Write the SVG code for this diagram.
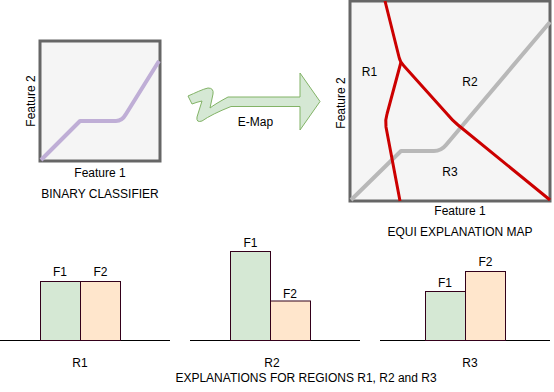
<svg xmlns="http://www.w3.org/2000/svg" width="554" height="392" viewBox="0 0 554 392">
<style>
text{font-family:"Liberation Sans",Arial,sans-serif;font-size:12px;fill:#000;text-anchor:middle}
.box{fill:#f5f5f5;stroke:#666666;stroke-width:3}
.red{fill:none;stroke:#cc0000;stroke-width:3;stroke-linejoin:round}
.f1{fill:#d5e8d4;stroke:#33001a;stroke-width:1}
.f2{fill:#ffe6cc;stroke:#33001a;stroke-width:1}
.axis{stroke:#000;stroke-width:1}
</style>
<g id="binary-classifier">
<rect class="box" x="40" y="41" width="120" height="120"/>
<path d="M41,160 L80,121 L116,121 Q122,121 126,114 L159,61" fill="none" stroke="#bfaed6" stroke-width="4" stroke-linejoin="round"/>
<text x="100" y="176.5">Feature 1</text>
<text transform="translate(35,101) rotate(-90)">Feature 2</text>
<text x="100" y="197.5">BINARY CLASSIFIER</text>
</g>
<g id="connectors">
<path id="emap-arrow" d="M188,96 C195,93 203,89 208,88 Q214,88 213,94 L210,108 Q215,104 228,97 L300,97 L300,73 L320,101.5 L300,130 L300,106.5 L231,106.5 Q212,114 202,121 Q196,123 197,117 L202,101 Q197,102 192,104 Z" fill="#d5e8d4" stroke="#82b366" stroke-width="1" stroke-linejoin="round"/>
<text x="255.5" y="126">E-Map</text>
</g>
<g id="equi-map">
<rect class="box" x="350" y="1" width="200" height="200"/>
<path d="M351,200 L401,151 L434,151 Q441,151 446,145 L550,22" fill="none" stroke="#b8b8b8" stroke-width="4" stroke-linejoin="round"/>
<path class="red" d="M385,1 L399,57 Q400,62 404,66 L448,115 Q452,120 458,125 L550,200"/>
<path class="red" d="M401,62 L387,114 Q385,120 386,127 L400,201"/>
<text x="369.5" y="76">R1</text>
<text x="470" y="85.5">R2</text>
<text x="450" y="176">R3</text>
<text x="460" y="215">Feature 1</text>
<text transform="translate(345,103) rotate(-90)">Feature 2</text>
<text x="460" y="235.5">EQUI EXPLANATION MAP</text>
</g>
<g id="chart-r1">
<line class="axis" x1="0" y1="340.5" x2="170" y2="340.5"/>
<rect class="f1" x="40.5" y="281.5" width="40" height="59"/>
<rect class="f2" x="80.5" y="281.5" width="40" height="59"/>
<text x="60" y="276">F1</text>
<text x="100.5" y="276">F2</text>
<text x="80" y="366.5">R1</text>
</g>
<g id="chart-r2">
<line class="axis" x1="190" y1="340.5" x2="360" y2="340.5"/>
<rect class="f1" x="230.5" y="251.5" width="40" height="89"/>
<rect class="f2" x="270.5" y="301" width="40" height="39.5"/>
<text x="250.5" y="247">F1</text>
<text x="290" y="297.5">F2</text>
<text x="272" y="366.5">R2</text>
</g>
<g id="chart-r3">
<line class="axis" x1="380" y1="340.5" x2="550" y2="340.5"/>
<rect class="f1" x="425.5" y="291.5" width="40" height="49"/>
<rect class="f2" x="465.5" y="271.5" width="40" height="69"/>
<text x="445" y="286.5">F1</text>
<text x="485.5" y="266">F2</text>
<text x="470" y="366.5">R3</text>
</g>
<text x="306" y="381.5">EXPLANATIONS FOR REGIONS R1, R2 and R3</text>
</svg>
